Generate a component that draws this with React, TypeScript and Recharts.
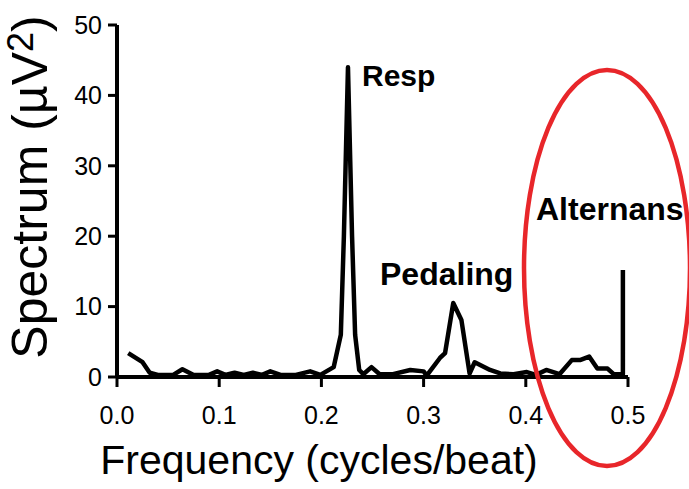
import { LineChart, Line, XAxis, YAxis } from "recharts";

// spectrum trace
const freq = [
  0.011, 0.025, 0.032, 0.04, 0.055, 0.064, 0.075, 0.09, 0.098, 0.106, 0.115, 0.124, 0.133, 0.142,
  0.15, 0.16, 0.175, 0.189, 0.199, 0.212, 0.219, 0.222, 0.226, 0.23, 0.233, 0.237, 0.241, 0.249,
  0.257, 0.27, 0.287, 0.3, 0.303, 0.316, 0.321, 0.329, 0.337, 0.345, 0.35, 0.365, 0.375, 0.388,
  0.401, 0.41, 0.42, 0.433, 0.445, 0.453, 0.462, 0.47, 0.48, 0.486, 0.495, 0.495,
];
const spectrum = [
  3.4, 2.1, 0.6, 0.3, 0.3, 1.1, 0.3, 0.3, 0.8, 0.3, 0.6, 0.3, 0.6, 0.3,
  0.8, 0.3, 0.3, 0.8, 0.3, 1.4, 6, 20, 44, 20, 6, 1.0, 0.4, 1.4,
  0.4, 0.4, 1.0, 0.8, 0.2, 2.7, 3.4, 10.5, 8.1, 0.5, 2.1, 1.0, 0.5, 0.4,
  0.7, 0.3, 1.0, 0.4, 2.4, 2.4, 2.9, 1.2, 1.2, 0.4, 0.4, 15.2,
];
const xTicks = [0, 0.1, 0.2, 0.3, 0.4, 0.5];
const yTicks = [0, 10, 20, 30, 40, 50];

const data = freq.map((f, i) => ({ f, v: spectrum[i] }));

const FONT = "'Liberation Sans', Arial, Helvetica, sans-serif";

export default function App() {
  return (
    <div style={{ position: "relative", width: 689, height: 489, background: "#fff", fontFamily: FONT }}>
      <style>{`body{margin:0}`}</style>
      <LineChart
        width={689}
        height={489}
        data={data}
        margin={{ top: 25, right: 61, bottom: 0, left: 57 }}
      >
        <XAxis
          dataKey="f"
          type="number"
          domain={[0, 0.5]}
          ticks={xTicks}
          tickFormatter={(v: number) => v.toFixed(1)}
          height={112}
          axisLine={{ stroke: "#000", strokeWidth: 4 }}
          tickLine={{ stroke: "#000", strokeWidth: 3 }}
          tickSize={10}
          tickMargin={19}
          tick={{ fill: "#000", fontSize: 25, fontFamily: FONT }}
          interval={0}
        />
        <YAxis
          type="number"
          domain={[0, 50]}
          ticks={yTicks}
          width={60}
          axisLine={{ stroke: "#000", strokeWidth: 4 }}
          tickLine={{ stroke: "#000", strokeWidth: 3 }}
          tickSize={9}
          tickMargin={6}
          tick={{ fill: "#000", fontSize: 25, fontFamily: FONT }}
          interval={0}
        />
        <Line
          type="linear"
          dataKey="v"
          stroke="#000"
          strokeWidth={4.5}
          strokeLinejoin="round"
          dot={false}
          isAnimationActive={false}
        />
      </LineChart>
      <svg
        width={689}
        height={489}
        style={{ position: "absolute", left: 0, top: 0, pointerEvents: "none" }}
      >
        <text x={362} y={86} fontSize={30} fontWeight="bold" fontFamily={FONT} fill="#000">Resp</text>
        <text x={380} y={285} fontSize={32} fontWeight="bold" fontFamily={FONT} fill="#000">Pedaling</text>
        <text x={536} y={220} fontSize={32} fontWeight="bold" fontFamily={FONT} fill="#000">Alternans</text>
        <text x={319} y={474} fontSize={41} textAnchor="middle" fontFamily={FONT} fill="#000">
          Frequency (cycles/beat)
        </text>
        <text
          transform="translate(47,187) rotate(-90)"
          fontSize={50}
          textAnchor="middle"
          fontFamily={FONT}
          fill="#000"
        >
          Spectrum (µV<tspan fontSize={36} dy={-14}>2</tspan><tspan dy={14}>)</tspan>
        </text>
        <ellipse cx={607} cy={268} rx={83} ry={198} fill="none" stroke="#e8262a" strokeWidth={4.5} />
      </svg>
    </div>
  );
}
